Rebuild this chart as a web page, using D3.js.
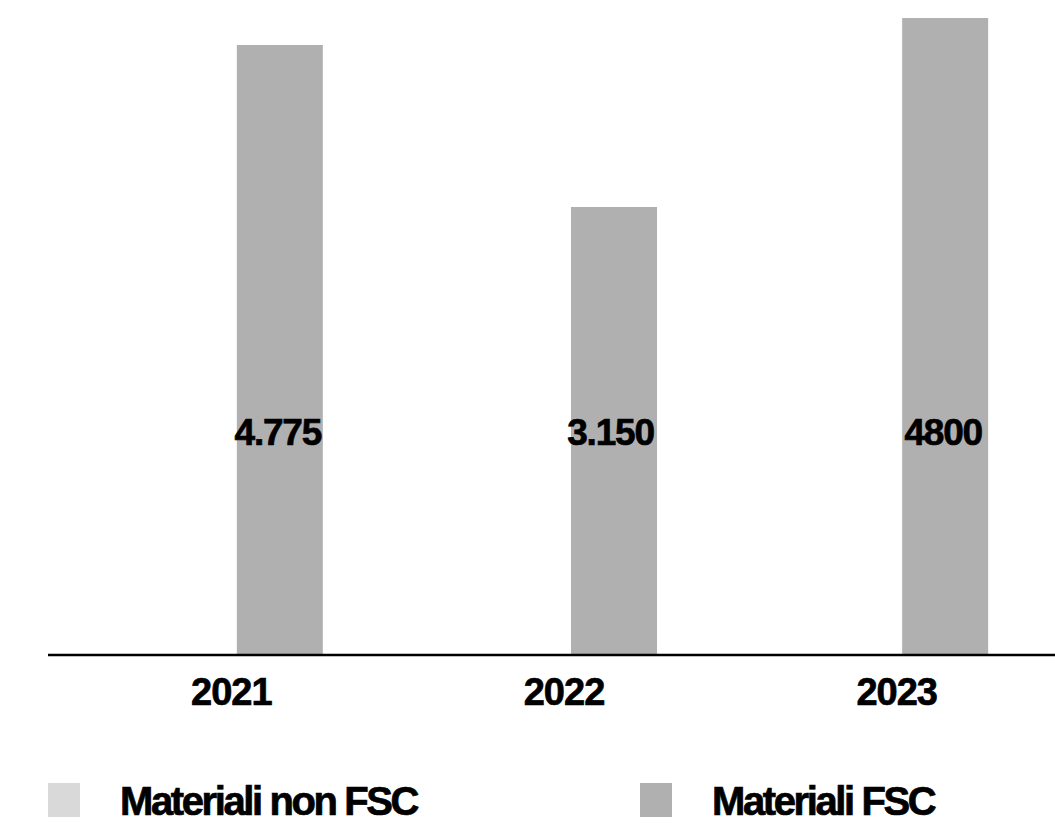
<!DOCTYPE html>
<html><head><meta charset="utf-8">
<script src="https://cdn.jsdelivr.net/npm/d3@7"></script>
<style>body{margin:0;background:#fff}svg{display:block}text{stroke:#000;stroke-width:0.7px}</style>
</head><body>
<script>
const years = ["2021","2022","2023"];
const seriesNames = ["Materiali non FSC","Materiali FSC"];
const nonFsc = [0,0,0];
const fsc = [4597,3376,4800];
const valueLabels = ["4.775","3.150","4800"];
const colors = ["#d9d9d9","#b0b0b0"];

const W=1055,H=824;
const svg=d3.select("body").append("svg").attr("width",W).attr("height",H);
const font="'Liberation Sans', Arial, sans-serif";

const x=d3.scaleBand().domain(years).range([66,1064]).paddingInner(0).paddingOuter(0);
const x1=d3.scaleBand().domain(seriesNames).range([x.bandwidth()/2-81.5, x.bandwidth()/2+90.5]);
const y=d3.scaleLinear().domain([0,5000]).range([655,-8.5]);

const data=[nonFsc,fsc];
years.forEach((yr,i)=>{
  const g=svg.append("g").attr("transform",`translate(${x(yr)},0)`);
  seriesNames.forEach((s,j)=>{
    const v=data[j][i];
    g.append("rect").attr("x",x1(s)+(i===1?1.5:0)).attr("width",x1.bandwidth())
     .attr("y",y(v)).attr("height",y(0)-y(v)).attr("fill",colors[j]);
  });
  g.append("text").attr("x",x1(seriesNames[1])+x1.bandwidth()/2-2).attr("y",445)
   .attr("text-anchor","middle").attr("font-family",font).attr("font-weight","bold")
   .attr("font-size",37).attr("letter-spacing","-1.2px").text(valueLabels[i]);
});

const xAxis=svg.append("g").attr("transform","translate(0,655)")
  .call(d3.axisBottom(x).tickSize(0).tickPadding(22));
xAxis.select(".domain").attr("d","M48,0H1055").attr("stroke","#000").attr("stroke-width",2.5);
xAxis.selectAll("text").attr("font-family",font).attr("font-weight","bold")
  .attr("font-size",38).attr("letter-spacing","-1px").attr("fill","#000")
  .attr("y",50).attr("dy",0).attr("dx","-1");

const legX=[48,640];
seriesNames.forEach((s,j)=>{
  svg.append("rect").attr("x",legX[j]).attr("y",783).attr("width",32).attr("height",34).attr("fill",colors[j]);
  svg.append("text").attr("x",legX[j]+72).attr("y",815).attr("font-family",font).attr("font-weight","bold")
   .attr("font-size",40).attr("letter-spacing","-2.4px").text(s);
});
</script>
</body></html>
